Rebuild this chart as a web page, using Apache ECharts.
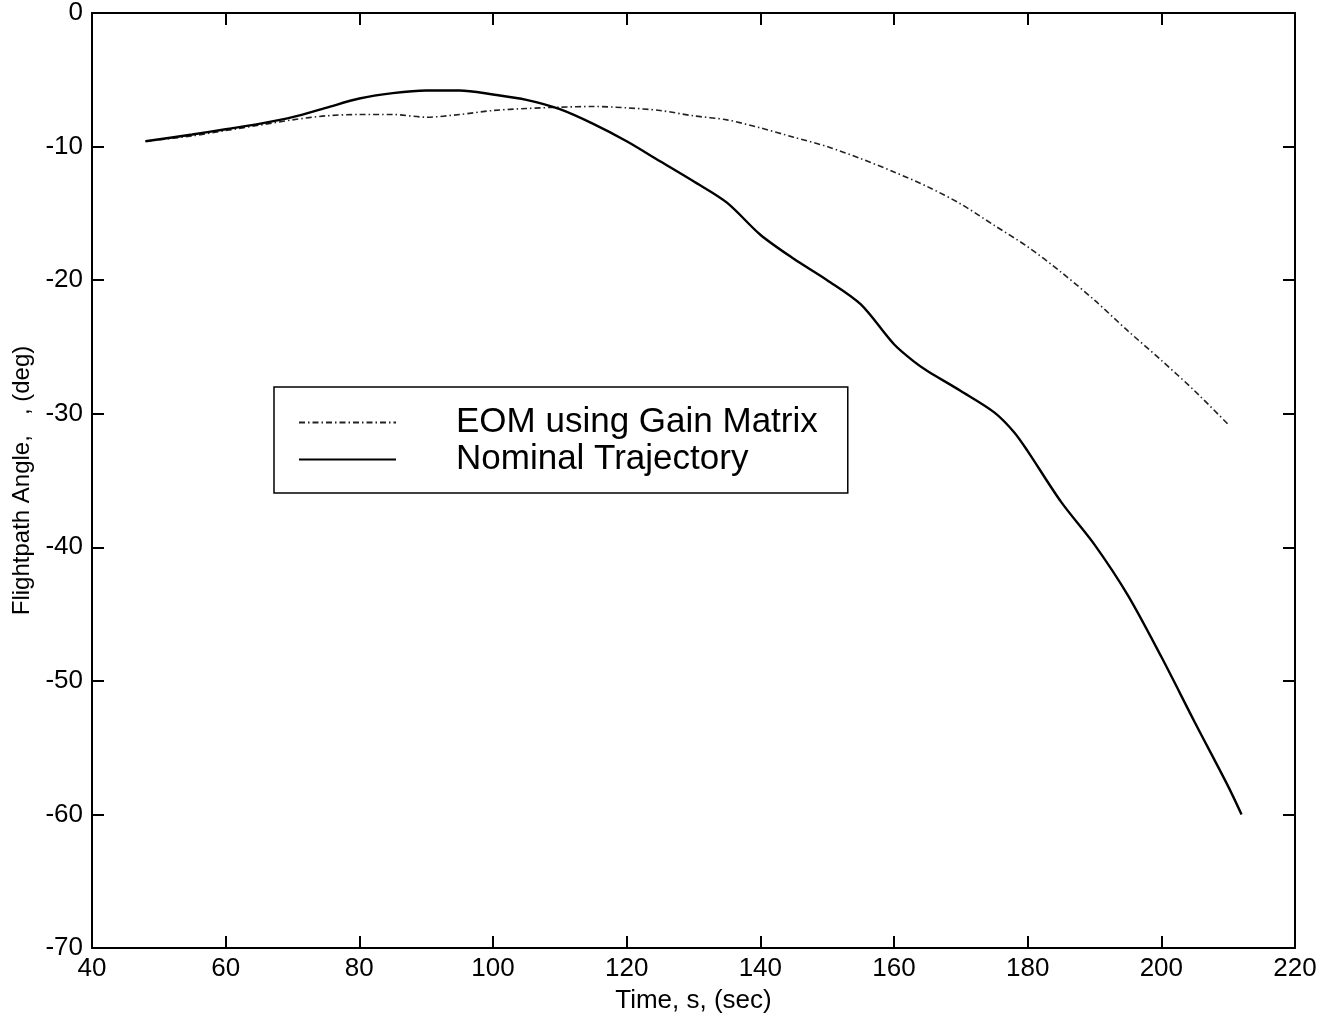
<!DOCTYPE html>
<html>
<head>
<meta charset="utf-8">
<script src="https://cdn.jsdelivr.net/npm/echarts@6/dist/echarts.min.js"></script>
<style>html,body{margin:0;padding:0;background:#fff}#c{width:1333px;height:1022px}</style>
</head>
<body>
<div id="c"></div>
<script>
const xTicks = [40, 60, 80, 100, 120, 140, 160, 180, 200, 220];
const yTicks = [0, -10, -20, -30, -40, -50, -60, -70];

const nominalT = [48, 55, 60, 65, 70, 75, 80, 85, 90, 95, 100, 105, 110, 115, 120, 125, 130, 135, 140, 145, 150, 155, 160, 163, 165, 170, 175, 178, 180, 185, 190, 195, 200, 205, 210, 212];
const nominalG = [-9.6, -9.1, -8.7, -8.3, -7.8, -7.1, -6.4, -6.0, -5.8, -5.8, -6.1, -6.5, -7.2, -8.3, -9.6, -11.1, -12.6, -14.2, -16.6, -18.4, -20.0, -21.8, -24.8, -26.1, -26.8, -28.3, -29.9, -31.4, -32.8, -36.6, -39.8, -43.6, -48.2, -53.1, -57.9, -60.0];

const eomT = [48, 55, 60, 65, 70, 75, 80, 85, 90, 95, 100, 105, 110, 115, 120, 125, 130, 135, 140, 145, 150, 155, 160, 165, 170, 175, 180, 185, 190, 195, 200, 205, 210];
const eomG = [-9.6, -9.2, -8.8, -8.4, -8.0, -7.7, -7.6, -7.6, -7.8, -7.6, -7.3, -7.15, -7.05, -7.0, -7.1, -7.3, -7.7, -8.0, -8.6, -9.3, -10.0, -10.9, -11.9, -13.0, -14.3, -15.9, -17.5, -19.4, -21.5, -23.8, -26.0, -28.3, -30.8];

const seriesNames = ['EOM using Gain Matrix', 'Nominal Trajectory'];
const xLabel = 'Time, s, (sec)';
const yLabel = 'Flightpath Angle,   , (deg)';

const zip = (a, b) => a.map((v, i) => [v, b[i]]);
const FONT = 'Arial, "Liberation Sans", sans-serif';

const chart = echarts.init(document.getElementById('c'));
const axisCommon = {
  type: 'value',
  splitLine: { show: false },
  axisLine: { show: true, onZero: false, lineStyle: { color: '#000', width: 2 } },
  axisTick: { show: true, inside: true, length: 12, lineStyle: { color: '#000', width: 2 } },
  axisLabel: { color: '#000', fontFamily: FONT, fontSize: 26 }
};
chart.setOption({
  animation: false,
  backgroundColor: '#fff',
  grid: { left: 92, right: 38, top: 13, bottom: 74 },
  xAxis: [
    Object.assign({}, axisCommon, {
      min: 40, max: 220, interval: 20, position: 'bottom',
      name: xLabel, nameLocation: 'middle', nameGap: 40,
      nameTextStyle: { color: '#000', fontFamily: FONT, fontSize: 26 },
      axisLabel: Object.assign({}, axisCommon.axisLabel, { margin: 8, showMinLabel: true, showMaxLabel: true })
    }),
    Object.assign({}, axisCommon, {
      min: 40, max: 220, interval: 20, position: 'top',
      axisLabel: { show: false }
    })
  ],
  yAxis: [
    Object.assign({}, axisCommon, {
      min: -70, max: 0, interval: 10, position: 'left',
      name: yLabel, nameLocation: 'middle', nameGap: 54,
      nameTextStyle: { color: '#000', fontFamily: FONT, fontSize: 24 },
      axisLabel: Object.assign({}, axisCommon.axisLabel, { margin: 9 })
    }),
    Object.assign({}, axisCommon, {
      min: -70, max: 0, interval: 10, position: 'right',
      axisLabel: { show: false }
    })
  ],
  legend: {
    orient: 'vertical',
    left: 274, top: 387,
    borderColor: '#000', borderWidth: 1.5,
    padding: [17, 30, 15, 24],
    itemWidth: 97, itemHeight: 14, itemGap: 0,
    itemStyle: { opacity: 0 },
    textStyle: { color: '#000', fontFamily: FONT, fontSize: 35, lineHeight: 37, padding: [0, 0, 0, 55] },
    data: seriesNames
  },
  series: [
    {
      name: seriesNames[0], type: 'line', data: zip(eomT, eomG),
      showSymbol: false, symbol: 'none', smooth: 0.3,
      lineStyle: { color: '#222', width: 1.6, type: [6, 3, 1.5, 3] }
    },
    {
      name: seriesNames[1], type: 'line', data: zip(nominalT, nominalG),
      showSymbol: false, symbol: 'none', smooth: 0.3,
      lineStyle: { color: '#000', width: 2.4, type: 'solid' }
    }
  ]
});
</script>
</body>
</html>
